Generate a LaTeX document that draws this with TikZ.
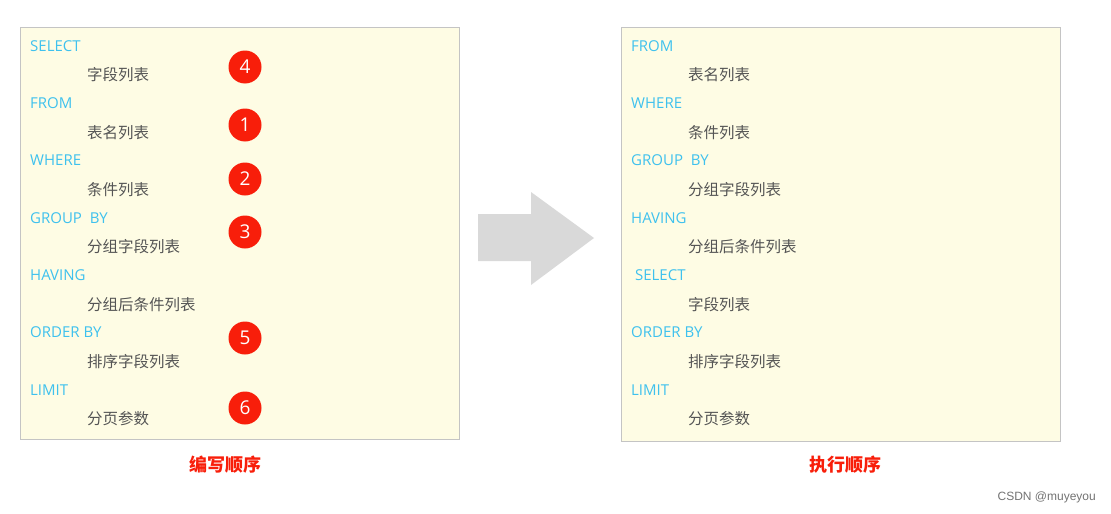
\documentclass[tikz,border=0pt]{standalone}
\usepackage{fontspec}
\setmainfont{Open Sans}
\newfontfamily\cjk{Noto Sans CJK SC}
\newfontfamily\wm{Liberation Sans}
\usetikzlibrary{positioning}
\definecolor{paper}{HTML}{FEFCE4}
\definecolor{frame}{HTML}{C4C4C4}
\definecolor{kw}{HTML}{3EC1EE}
\definecolor{txt}{HTML}{555555}
\definecolor{mark}{HTML}{F81E0A}
\definecolor{pointer}{HTML}{D9D9D9}

\begin{document}
\begin{tikzpicture}[x=1pt,y=-1pt,
  panel/.style={draw=frame,fill=paper,line width=1pt},
  keyword/.style={anchor=west,inner sep=0pt,text=kw,font=\fontsize{15}{17}\selectfont},
  item/.style={anchor=west,inner sep=0pt,text=txt,font=\cjk\fontsize{15.5}{17}\selectfont},
  order/.style={circle,fill=mark,text=white,minimum size=33pt,inner sep=0pt,font=\fontsize{19}{20}\selectfont},
  caption/.style={text=mark,font=\cjk\bfseries\fontsize{18}{20}\selectfont}]
  \useasboundingbox (0,0) rectangle (1111,514);
  % two panels and the big arrow between them
  \draw[panel] (20,27) rectangle (459,439);
  \draw[panel] (621,27) rectangle (1060,441);
  \fill[pointer] (478,214) -- (531,214) -- (531,192) -- (594,238)
    -- (531,285) -- (531,261) -- (478,261) -- cycle;
  % writing order
  \foreach \kwtext/\itemtext [count=\i] in {SELECT/字段列表,FROM/表名列表,WHERE/条件列表,
      {GROUP\ \ BY}/分组字段列表,HAVING/分组后条件列表,ORDER BY/排序字段列表,LIMIT/分页参数} {
    \node[keyword] (wk\i) at (30,{46+57.3*(\i-1)}) {\kwtext};
    \node[item] (wi\i) at (87,{75+57.3*(\i-1)}) {\itemtext};
  }
  \foreach \num/\ypos in {4/67,1/125,2/179,3/232,5/338,6/408}
    \node[order] (o\num) at (245,\ypos) {\num};
  % execution order
  \foreach \kwtext/\itemtext [count=\i] in {FROM/表名列表,WHERE/条件列表,{GROUP\ \ BY}/分组字段列表,
      HAVING/分组后条件列表,\ SELECT/字段列表,ORDER BY/排序字段列表,LIMIT/分页参数} {
    \node[keyword] (ek\i) at (631,{46+57.3*(\i-1)}) {\kwtext};
    \node[item] (ei\i) at (688,{75+57.3*(\i-1)}) {\itemtext};
  }
  \node[caption] (wcap) at (225,465) {编写顺序};
  \node[caption] (ecap) at (845,465) {执行顺序};
  \node[anchor=east,inner sep=0pt,text=black!55,font=\wm\fontsize{12}{14}\selectfont] (credit) at (1096,497) {CSDN @muyeyou};
\end{tikzpicture}
\end{document}
